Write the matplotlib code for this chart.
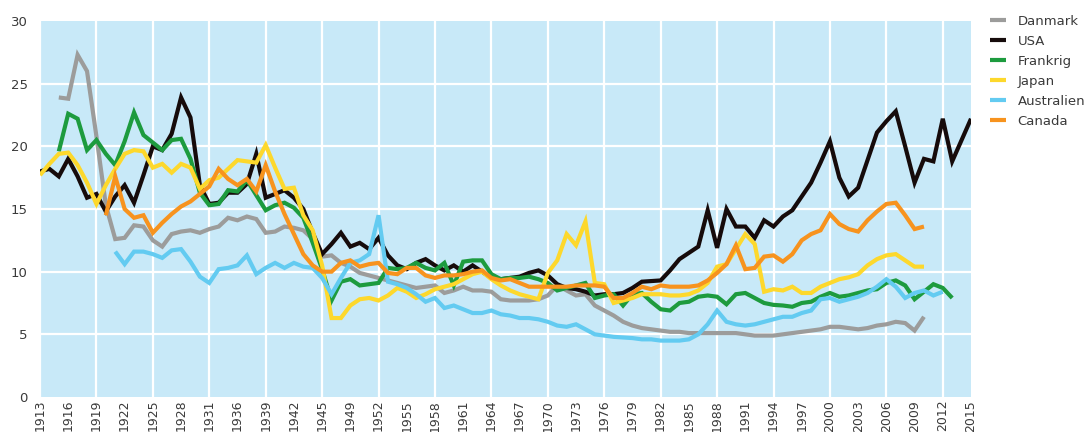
import numpy as np
import matplotlib
matplotlib.use("Agg")
import matplotlib.pyplot as plt
from matplotlib import font_manager
from matplotlib.lines import Line2D

# Category axis: years (a few war years are missing from the source)
YEARS = list(range(1913, 1932)) + list(range(1934, 1946)) + list(range(1947, 2016))

# Series values, each with the index of the first category it covers
DANMARK_START = 2
DANMARK = [23.9, 23.8, 27.3, 26.0, 20.8, 15.3, 12.6, 12.7,
           13.7, 13.6, 12.5, 12.0, 13.0, 13.2, 13.3, 13.1, 13.4, 13.6,
           14.3, 14.1, 14.4, 14.2, 13.1, 13.2, 13.6, 13.5, 13.3, 12.6,
           11.2, 11.3, 10.7, 10.4, 9.9, 9.7, 9.5, 9.3, 9.1, 8.9,
           8.7, 8.8, 8.9, 8.3, 8.5, 8.8, 8.5, 8.5, 8.4, 7.8,
           7.7, 7.7, 7.7, 7.8, 8.1, 8.9, 8.5, 8.1, 8.2, 7.3,
           6.9, 6.5, 6.0, 5.7, 5.5, 5.4, 5.3, 5.2, 5.2, 5.1,
           5.1, 5.1, 5.1, 5.1, 5.1, 5.0, 4.9, 4.9, 4.9, 5.0,
           5.1, 5.2, 5.3, 5.4, 5.6, 5.6, 5.5, 5.4, 5.5, 5.7,
           5.8, 6.0, 5.9, 5.3, 6.4]

USA_START = 0
USA = [18.0, 18.2, 17.6, 19.0, 17.6, 15.9, 16.2, 14.8, 16.0, 16.9,
       15.5, 17.7, 20.0, 19.7, 21.0, 23.9, 22.3, 16.9, 15.4, 15.5,
       16.3, 16.3, 17.0, 19.4, 15.9, 16.2, 16.5, 15.9, 15.0, 13.1,
       11.4, 12.2, 13.1, 12.0, 12.3, 11.8, 12.7, 11.3, 10.5, 10.2,
       10.7, 11.0, 10.5, 10.1, 10.5, 10.0, 10.5, 10.0, 9.5, 9.4,
       9.5, 9.6, 9.9, 10.1, 9.7, 9.0, 8.7, 8.6, 8.4, 8.1,
       8.2, 8.2, 8.3, 8.7, 9.2, 9.25, 9.3, 10.1, 11.0, 11.5,
       12.0, 14.9, 11.9, 15.0, 13.6, 13.6, 12.7, 14.1, 13.6, 14.4,
       14.9, 16.0, 17.1, 18.7, 20.4, 17.5, 16.0, 16.7, 18.9, 21.1,
       22.0, 22.8, 20.0, 17.1, 19.0, 18.8, 22.2, 18.8, 20.5, 22.2]

FRANKRIG_START = 2
FRANKRIG = [19.6, 22.6, 22.2, 19.7, 20.5, 19.4, 18.5, 20.4,
            22.7, 20.9, 20.3, 19.7, 20.5, 20.6, 19.0, 16.3, 15.3, 15.4,
            16.5, 16.4, 17.3, 16.1, 14.9, 15.3, 15.5, 15.1, 14.3, 12.3,
            10.2, 7.7, 9.2, 9.4, 8.9, 9.0, 9.1, 10.3, 10.2, 10.3,
            10.7, 10.3, 10.1, 10.7, 8.9, 10.8, 10.9, 10.9, 9.8, 9.4,
            9.5, 9.5, 9.6, 9.4, 9.1, 8.5, 8.7, 8.9, 9.1, 7.9,
            8.1, 8.2, 7.3, 8.2, 8.3, 7.6, 7.0, 6.9, 7.5, 7.6,
            8.0, 8.1, 8.0, 7.4, 8.2, 8.3, 7.9, 7.5, 7.35, 7.3,
            7.2, 7.5, 7.6, 8.0, 8.3, 8.0, 8.1, 8.3, 8.5, 8.6,
            9.1, 9.3, 8.9, 7.8, 8.4, 9.0, 8.7, 7.9]

JAPAN_START = 0
JAPAN = [17.7, 18.6, 19.4, 19.5, 18.5, 17.1, 15.4, 16.9, 18.2, 19.4,
         19.7, 19.6, 18.3, 18.6, 17.9, 18.6, 18.3, 16.6, 17.3, 17.5,
         18.2, 18.9, 18.8, 18.7, 20.1, 18.3, 16.6, 16.7, 14.5, 13.3,
         10.5, 6.3, 6.3, 7.3, 7.8, 7.9, 7.7, 8.1, 8.7, 8.4,
         7.9, 8.2, 8.6, 8.8, 9.0, 9.4, 9.8, 10.0, 9.4, 8.9,
         8.5, 8.2, 8.0, 7.8, 9.9, 10.9, 13.0, 12.1, 14.0, 9.1,
         9.0, 7.5, 7.7, 7.9, 8.2, 8.2, 8.2, 8.1, 8.1, 8.2,
         8.5, 9.1, 10.4, 10.6, 11.8, 13.0, 12.2, 8.4, 8.6, 8.5,
         8.8, 8.3, 8.3, 8.8, 9.1, 9.4, 9.55, 9.8, 10.5, 11.0,
         11.3, 11.4, 10.9, 10.4, 10.4]

AUSTRALIEN_START = 8
AUSTRALIEN = [11.6, 10.6,
              11.6, 11.6, 11.4, 11.1, 11.7, 11.8, 10.8, 9.6, 9.1, 10.2,
              10.3, 10.5, 11.3, 9.8, 10.3, 10.7, 10.3, 10.7, 10.4, 10.3,
              9.5, 8.2, 9.5, 10.7, 10.9, 11.4, 14.5, 9.2, 9.0, 8.7,
              8.2, 7.6, 7.9, 7.1, 7.3, 7.0, 6.7, 6.7, 6.9, 6.6,
              6.5, 6.3, 6.3, 6.2, 6.0, 5.7, 5.6, 5.8, 5.4, 5.0,
              4.9, 4.8, 4.75, 4.7, 4.6, 4.6, 4.5, 4.5, 4.5, 4.6,
              5.0, 5.8, 6.9, 6.0, 5.8, 5.7, 5.8, 6.0, 6.2, 6.4,
              6.4, 6.7, 6.9, 7.8, 7.9, 7.6, 7.8, 8.0, 8.3, 8.8,
              9.4, 8.8, 7.9, 8.3, 8.5, 8.1, 8.4]

CANADA_START = 7
CANADA = [14.5, 17.6, 15.0,
          14.3, 14.5, 13.1, 13.9, 14.6, 15.2, 15.6, 16.2, 16.8, 18.2,
          17.4, 16.9, 17.4, 16.4, 18.5, 16.4, 14.6, 13.0, 11.4, 10.5,
          10.0, 10.0, 10.7, 10.9, 10.4, 10.6, 10.7, 9.9, 9.8, 10.3,
          10.3, 9.7, 9.5, 9.7, 9.7, 9.8, 10.0, 10.1, 9.5, 9.3,
          9.4, 9.1, 8.8, 8.8, 8.8, 8.8, 8.8, 8.9, 8.9, 8.9,
          8.8, 7.9, 7.9, 8.3, 8.8, 8.6, 8.9, 8.8, 8.8, 8.8,
          8.9, 9.3, 9.9, 10.6, 12.1, 10.2, 10.3, 11.2, 11.3, 10.8,
          11.4, 12.5, 13.0, 13.3, 14.6, 13.8, 13.4, 13.2, 14.1, 14.8,
          15.4, 15.5, 14.5, 13.4, 13.6]

SERIES = [
    ("Danmark", DANMARK_START, DANMARK, "#9c9c9b"),
    ("USA", USA_START, USA, "#160b0b"),
    ("Frankrig", FRANKRIG_START, FRANKRIG, "#1d9b3e"),
    ("Japan", JAPAN_START, JAPAN, "#fdd82c"),
    ("Australien", AUSTRALIEN_START, AUSTRALIEN, "#63cbf1"),
    ("Canada", CANADA_START, CANADA, "#f7931e"),
]

# Fonts: a narrow sans is closest to the original
names = {f.name for f in font_manager.fontManager.ttflist}
if "Liberation Sans Narrow" in names:
    FONT, FS, FSX = "Liberation Sans Narrow", 12, 11.5
else:
    FONT, FS, FSX = "DejaVu Sans", 9.5, 9
plt.rcParams["font.family"] = [FONT, "DejaVu Sans"]
TEXT = "#3a3a3a"
BG = "#c8e9f8"

W, H = 1085, 432
fig = plt.figure(figsize=(W / 100, H / 100), dpi=100)
ax = fig.add_axes([40 / W, 35 / H, 931 / W, 376 / H])
ax.set_facecolor(BG)
for s in ax.spines.values():
    s.set_visible(False)

n = len(YEARS)
x = np.arange(n)

# Grid
for gx in range(0, n, 6):
    ax.axvline(gx, color="white", lw=1.6, zorder=1)
for gy in range(5, 30, 5):
    ax.axhline(gy, color="white", lw=1.6, zorder=1)

handles = []
for name, start, vals, color in SERIES:
    y = np.full(n, np.nan)
    y[start:start + len(vals)] = vals
    ax.plot(x, y, color=color, lw=3.0, solid_joinstyle="miter",
            solid_capstyle="butt", zorder=3)
    handles.append(Line2D([], [], color=color, lw=3.0, solid_capstyle="butt",
                          label=name))

ax.set_xlim(0, n - 1)
ax.set_ylim(0, 30)
ax.set_yticks(range(0, 31, 5))
ax.set_xticks(x[::3])
ax.set_xticklabels([str(YEARS[i]) for i in x[::3]], rotation=90)
ax.tick_params(axis="both", length=0, labelcolor=TEXT)
ax.tick_params(axis="x", pad=2, labelsize=FSX)
ax.tick_params(axis="y", pad=9, labelsize=FS)

leg = fig.legend(handles=handles, loc="upper left",
                 bbox_to_anchor=(990 / W, 1 - 15 / H),
                 frameon=False, fontsize=FS, handlelength=1.25,
                 handletextpad=0.85, labelspacing=0.53, borderpad=0,
                 borderaxespad=0)
for t in leg.get_texts():
    t.set_color(TEXT)

fig.savefig("out.png", dpi=100)
